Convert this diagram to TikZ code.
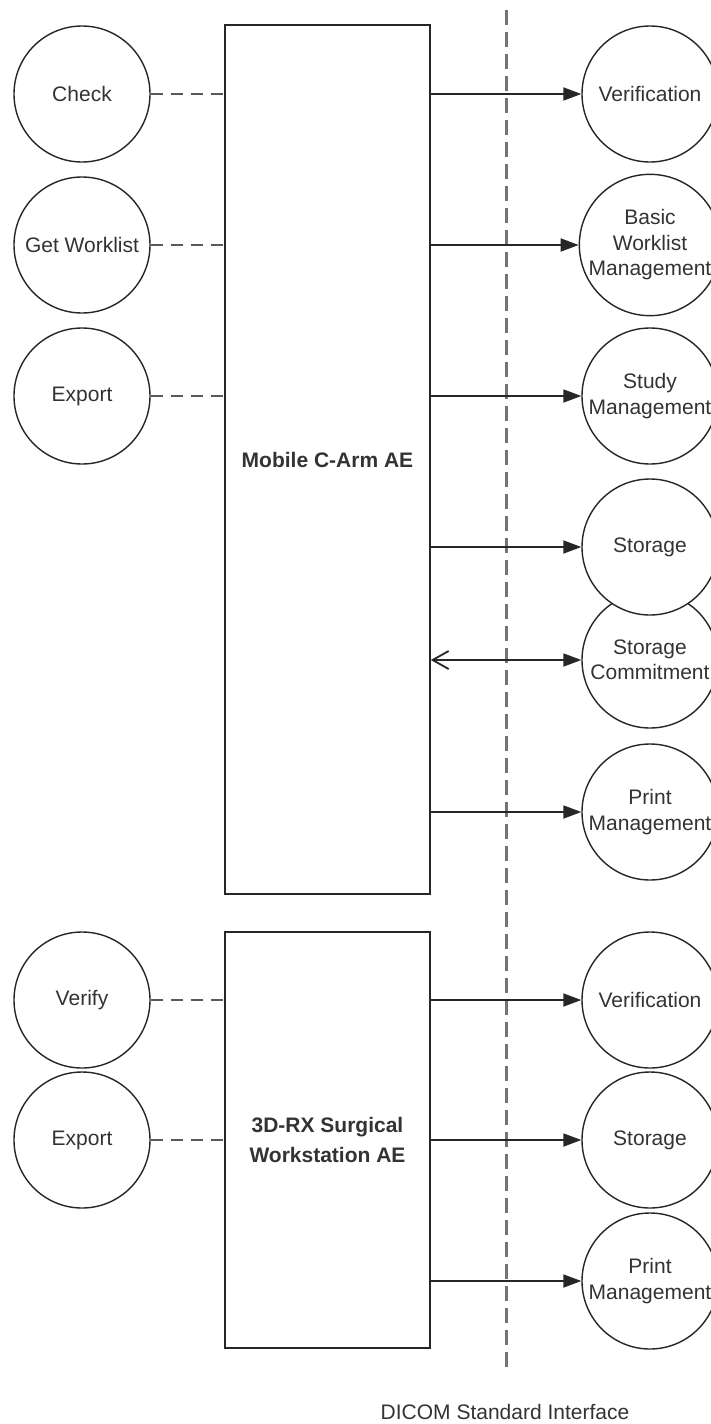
\documentclass[tikz,border=0pt]{standalone}
\usepackage{fontspec}
\setmainfont{Liberation Sans}
\usetikzlibrary{positioning,arrows.meta}

\begin{document}
\begin{tikzpicture}[x=0.5pt, y=-0.5pt]
      \tikzset{
          every node/.style={font=\fontsize{10.5}{12.75}\selectfont, text=black!80},
          service/.style={circle, draw=black!85, fill=white, line width=0.7pt, minimum size=68pt, inner sep=0pt, align=center},
          aebox/.style={rectangle, draw=black!85, line width=0.8pt, minimum width=102.5pt, align=center, font=\bfseries\fontsize{10.5}{15}\selectfont},
          localline/.style={draw=black!65, line width=1pt, dash pattern=on 6pt off 4pt},
          dicomline/.style={draw=black!85, line width=0.9pt, -{Triangle[length=9pt,width=6.5pt]}},
          boundary/.style={draw=black!55, line width=1.5pt, dash pattern=on 7.5pt off 3.5pt},
      }

      \useasboundingbox (0,0) rectangle (711,1424);

      % application entities
      \node[aebox, minimum height=434.5pt] (CArmAE) at (327.5,459.5) {Mobile C-Arm AE};
      \node[aebox, minimum height=208pt] (WorkstationAE) at (327.5,1140) {3D-RX Surgical\\Workstation AE};

      % local real-world activities
      \node[service] (Check) at (82,94) {Check};
      \node[service] (GetWorklist) at (82,245) {Get Worklist};
      \node[service] (Export01) at (82,396) {Export};
      \node[service] (Verify) at (82,1000) {Verify};
      \node[service] (Export02) at (82,1140) {Export};

      % remote services
      \node[service] (Verification01) at (650,94) {Verification};
      \node[service] (Worklist) at (650,245) {Basic\\Worklist\\Management};
      \node[service] (Study) at (650,396) {Study\\Management};
      \node[service] (Commitment) at (650,660) {Storage\\Commitment};
      \node[service] (Storage01) at (650,547) {Storage};
      \node[service] (Print01) at (650,812) {Print\\Management};
      \node[service] (Verification02) at (650,1000) {Verification};
      \node[service] (Storage02) at (650,1140) {Storage};
      \node[service] (Print02) at (650,1281) {Print\\Management};

      % interface boundary
      \coordinate (BoundaryTop) at (506,10);
      \coordinate (BoundaryBottom) at (506,1372);
      \node (Interface) at (505,1412) {DICOM Standard Interface};
      \path[boundary] (BoundaryTop) -- (BoundaryBottom);

      \path[localline] (Check.east) -- (CArmAE.west |- Check);
      \path[localline] (GetWorklist.east) -- (CArmAE.west |- GetWorklist);
      \path[localline] (Export01.east) -- (CArmAE.west |- Export01);
      \path[localline] (Verify.east) -- (WorkstationAE.west |- Verify);
      \path[localline] (Export02.east) -- (WorkstationAE.west |- Export02);

      \path[dicomline] (CArmAE.east |- Verification01) -- (Verification01.west);
      \path[dicomline] (CArmAE.east |- Worklist) -- (Worklist.west);
      \path[dicomline] (CArmAE.east |- Study) -- (Study.west);
      \path[dicomline] (CArmAE.east |- Storage01) -- (Storage01.west);
      \path[dicomline, {Straight Barb[length=8pt,width=9pt]}-{Triangle[length=9pt,width=6.5pt]}] (CArmAE.east |- Commitment) -- (Commitment.west);
      \path[dicomline] (CArmAE.east |- Print01) -- (Print01.west);
      \path[dicomline] (WorkstationAE.east |- Verification02) -- (Verification02.west);
      \path[dicomline] (WorkstationAE.east |- Storage02) -- (Storage02.west);
      \path[dicomline] (WorkstationAE.east |- Print02) -- (Print02.west);

\end{tikzpicture}
\end{document}
